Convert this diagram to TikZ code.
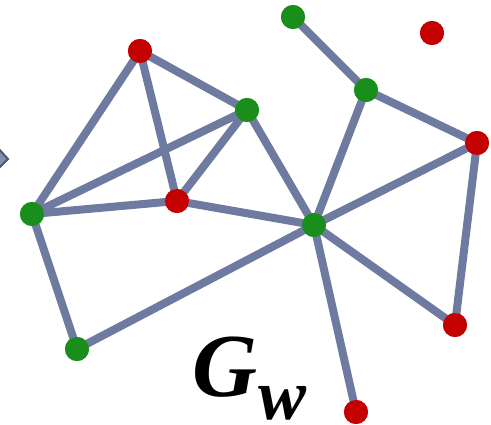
\documentclass[tikz,border=0pt]{standalone}
\usepackage{fontspec}
\newfontfamily\labfont{Liberation Serif}
\begin{document}
\begin{tikzpicture}[x=1pt,y=-1pt,
  edge/.style={line width=8pt,draw=edgec},
  gn/.style={circle,fill=nodegreen,minimum size=24pt,inner sep=0pt},
  rn/.style={circle,fill=nodered,minimum size=24pt,inner sep=0pt}]
\definecolor{edgec}{RGB}{110,122,160}
\definecolor{nodegreen}{RGB}{26,142,26}
\definecolor{nodered}{RGB}{196,0,0}
\useasboundingbox (0,0) rectangle (491,425);
\fill[white] (0,0) rectangle (491,425);
% partial arrow tip at left edge
\filldraw[fill=edgec!85!white,draw=edgec!70!black,line width=2pt] (-4,146) -- (8,159) -- (-4,171) -- cycle;
\node[rn] (a) at (140,51) {};
\node[gn] (b) at (293,17) {};
\node[rn] (c) at (432,33) {};
\node[gn] (d) at (247,110) {};
\node[gn] (e) at (366,90) {};
\node[rn] (f) at (477,143) {};
\node[gn] (g) at (32,214) {};
\node[rn] (h) at (177,201) {};
\node[gn] (i) at (314,225) {};
\node[rn] (j) at (455,325) {};
\node[gn] (k) at (77,349) {};
\node[rn] (l) at (356,412) {};
\begin{scope}[edge]
\draw (a.center) -- (d.center);
\draw (a.center) -- (h.center);
\draw (a.center) -- (g.center);
\draw (d.center) -- (g.center);
\draw (d.center) -- (h.center);
\draw (d.center) -- (i.center);
\draw (g.center) -- (h.center);
\draw (h.center) -- (i.center);
\draw (g.center) -- (k.center);
\draw (k.center) -- (i.center);
\draw (b.center) -- (e.center);
\draw (e.center) -- (f.center);
\draw (e.center) -- (i.center);
\draw (f.center) -- (i.center);
\draw (f.center) -- (j.center);
\draw (i.center) -- (j.center);
\draw (i.center) -- (l.center);
\end{scope}
\foreach \n/\s in {a/rn,b/gn,c/rn,d/gn,e/gn,f/rn,g/gn,h/rn,i/gn,j/rn,k/gn,l/rn}
  \node[\s] at (\n.center) {};
\node[inner sep=0pt,anchor=base west] (lab) at (192,397) {\labfont\bfseries\itshape\fontsize{90}{90}\selectfont G\hspace{1pt}\raisebox{-23pt}{\fontsize{72}{72}\selectfont w}};
\end{tikzpicture}
\end{document}
